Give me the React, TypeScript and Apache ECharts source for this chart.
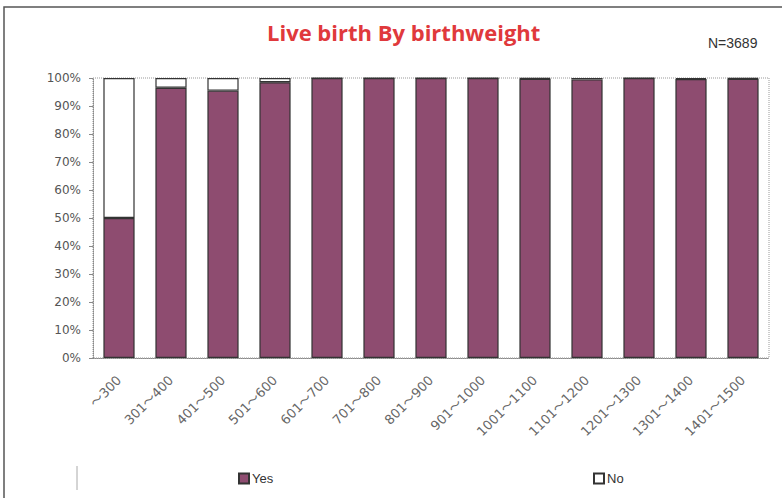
import React, { useEffect, useRef } from "react";
import * as echarts from "echarts";

const categories = ["〜300", "301〜400", "401〜500", "501〜600", "601〜700", "701〜800", "801〜900", "901〜1000", "1001〜1100", "1101〜1200", "1201〜1300", "1301〜1400", "1401〜1500"];
const yesValues = [50, 96.5, 95.5, 98.5, 100, 100, 100, 100, 99.7, 99.5, 100, 99.6, 99.7];
const noValues = [50, 3.5, 4.5, 1.5, 0, 0, 0, 0, 0.3, 0.5, 0, 0.4, 0.3];
const yTicks = [0, 10, 20, 30, 40, 50, 60, 70, 80, 90, 100];

export default function App() {
  const ref = useRef<HTMLDivElement>(null);
  useEffect(() => {
    const chart = echarts.init(ref.current!, null, { renderer: "svg" });
    chart.setOption({
      animation: false,
      backgroundColor: "#ffffff",
      title: {
        text: "Live birth By birthweight",
        left: 262,
        top: 16,
        textStyle: { color: "#e0393c", fontSize: 22, fontWeight: "bold", fontFamily: "Open Sans" },
      },
      graphic: [
        { type: "rect", shape: { x: 4, y: 7, width: 800, height: 520 }, style: { fill: "none", stroke: "#555", lineWidth: 1.5 }, silent: true },
        { type: "line", shape: { x1: 77, y1: 466, x2: 77, y2: 490 }, style: { stroke: "#aaa", lineWidth: 1 } },
        { type: "text", left: 708, top: 36, style: { text: "N=3689", fontSize: 14, fill: "#333", fontFamily: "Liberation Sans" } },
      ],
      legend: [
        { data: ["Yes"], left: 233, top: 467, icon: "rect", itemWidth: 10, itemHeight: 10, itemGap: 3, textStyle: { fontSize: 13, color: "#333", padding: [0, 0, 0, -2] } },
        { data: ["No"], left: 588, top: 467, icon: "rect", itemWidth: 10, itemHeight: 10, itemGap: 3, textStyle: { fontSize: 13, color: "#333", padding: [0, 0, 0, -2] } },
      ],
      grid: { left: 93, right: 13, top: 78, bottom: 140, show: true, borderColor: "#999", borderType: "dotted", borderWidth: 1 },
      xAxis: {
        type: "category",
        data: categories,
        axisLine: { lineStyle: { color: "#888", type: "dotted" } },
        axisTick: { show: false },
        axisLabel: { rotate: 45, color: "#666", fontSize: 13, fontFamily: "DejaVu Sans, Noto Sans CJK JP", margin: 20, interval: 0 },
      },
      yAxis: {
        type: "value",
        min: yTicks[0],
        max: yTicks[yTicks.length - 1],
        interval: 10,
        splitLine: { show: false },
        axisLine: { show: true, lineStyle: { color: "#888", type: "dotted" } },
        axisTick: { show: true, length: 4, lineStyle: { color: "#888" } },
        axisLabel: { formatter: "{value}%", color: "#555", fontSize: 12, fontFamily: "DejaVu Sans", margin: 12 },
      },
      series: [
        {
          name: "Yes",
          type: "bar",
          stack: "s",
          barWidth: "60%",
          data: yesValues,
          itemStyle: { color: "#8e4c70", borderColor: "#333", borderWidth: 1.2 },
        },
        {
          name: "No",
          type: "bar",
          stack: "s",
          barWidth: "60%",
          data: noValues,
          itemStyle: { color: "#ffffff", borderColor: "#333", borderWidth: 1.2 },
        },
      ],
    });
    return () => chart.dispose();
  }, []);
  return <div ref={ref} style={{ position: "fixed", left: 0, top: 0, width: 782, height: 498 }} />;
}
